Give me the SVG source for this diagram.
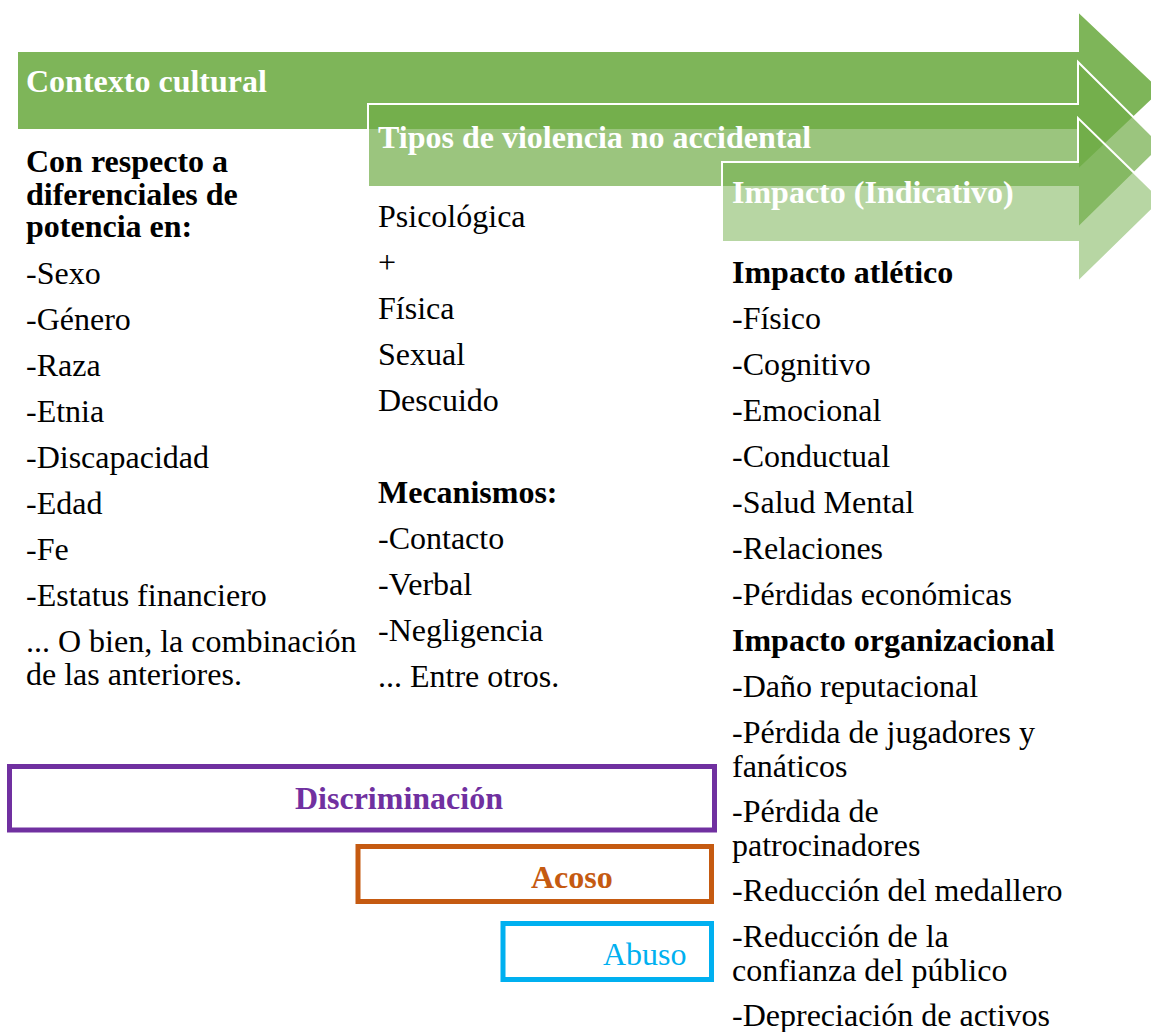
<svg xmlns="http://www.w3.org/2000/svg" width="1151" height="1032" viewBox="0 0 1151 1032">
<style>
text{font-family:"Liberation Serif","Times New Roman",serif;font-size:32px;fill:#000}
.b{font-weight:bold}
.w{fill:#fff;font-weight:bold}
.arr{fill:#70AD47;stroke:#fff;stroke-width:2;stroke-linejoin:miter}
.box{fill:#fff;stroke-width:5}
</style>
<rect width="1151" height="1032" fill="#fff"/>
<g id="arrow-contexto">
<path class="arr" fill-opacity="0.9" d="M17,51 H1078 V11 L1162,90.5 L1078,170 V130 H17 Z"/>
<text class="w" x="26" y="92">Contexto cultural</text>
</g>
<g id="arrow-tipos">
<path class="arr" fill-opacity="0.7" d="M368,104 H1078 V62 L1162,145.5 L1078,228 V187 H368 Z"/>
<text class="w" x="378" y="148">Tipos de violencia no accidental</text>
</g>
<g id="arrow-impacto">
<path class="arr" fill-opacity="0.5" d="M722,162 H1078 V118 L1162,200 L1078,282 V242 H722 Z"/>
<text class="w" x="732" y="203">Impacto (Indicativo)</text>
</g>
<g id="col-contexto">
<text class="b" x="26" y="172">Con respecto a</text>
<text class="b" x="26" y="205">diferenciales de</text>
<text class="b" x="26" y="237">potencia en:</text>
<text x="26" y="284">-Sexo</text>
<text x="26" y="330">-Género</text>
<text x="26" y="376">-Raza</text>
<text x="26" y="422">-Etnia</text>
<text x="26" y="468">-Discapacidad</text>
<text x="26" y="514">-Edad</text>
<text x="26" y="560">-Fe</text>
<text x="26" y="606">-Estatus financiero</text>
<text x="26" y="652">... O bien, la combinación</text>
<text x="26" y="685">de las anteriores.</text>
</g>
<g id="col-tipos">
<text x="378" y="227">Psicológica</text>
<text x="378" y="273">+</text>
<text x="378" y="319">Física</text>
<text x="378" y="365">Sexual</text>
<text x="378" y="411">Descuido</text>
<text class="b" x="378" y="503">Mecanismos:</text>
<text x="378" y="549">-Contacto</text>
<text x="378" y="595">-Verbal</text>
<text x="378" y="641">-Negligencia</text>
<text x="378" y="687">... Entre otros.</text>
</g>
<g id="col-impacto">
<text class="b" x="732" y="283">Impacto atlético</text>
<text x="732" y="329">-Físico</text>
<text x="732" y="375">-Cognitivo</text>
<text x="732" y="421">-Emocional</text>
<text x="732" y="467">-Conductual</text>
<text x="732" y="513">-Salud Mental</text>
<text x="732" y="559">-Relaciones</text>
<text x="732" y="605">-Pérdidas económicas</text>
<text class="b" x="732" y="651">Impacto organizacional</text>
<text x="732" y="697">-Daño reputacional</text>
<text x="732" y="743">-Pérdida de jugadores y</text>
<text x="732" y="777">fanáticos</text>
<text x="732" y="822">-Pérdida de</text>
<text x="732" y="856">patrocinadores</text>
<text x="732" y="901">-Reducción del medallero</text>
<text x="732" y="947">-Reducción de la</text>
<text x="732" y="981">confianza del público</text>
<text x="732" y="1026">-Depreciación de activos</text>
</g>
<g id="box-discriminacion">
<rect class="box" x="9.5" y="766.5" width="705" height="63.5" stroke="#7030A0"/>
<text class="b" x="295" y="809" style="fill:#7030A0">Discriminación</text>
</g>
<g id="box-acoso">
<rect class="box" x="358" y="846.5" width="353.5" height="55" stroke="#C55A11"/>
<text class="b" x="531" y="888" style="fill:#C55A11">Acoso</text>
</g>
<g id="box-abuso">
<rect class="box" x="503" y="923.5" width="208.5" height="56" stroke="#00B0F0"/>
<text x="603" y="965" style="fill:#00B0F0">Abuso</text>
</g>
<g id="connectors"></g>
</svg>
